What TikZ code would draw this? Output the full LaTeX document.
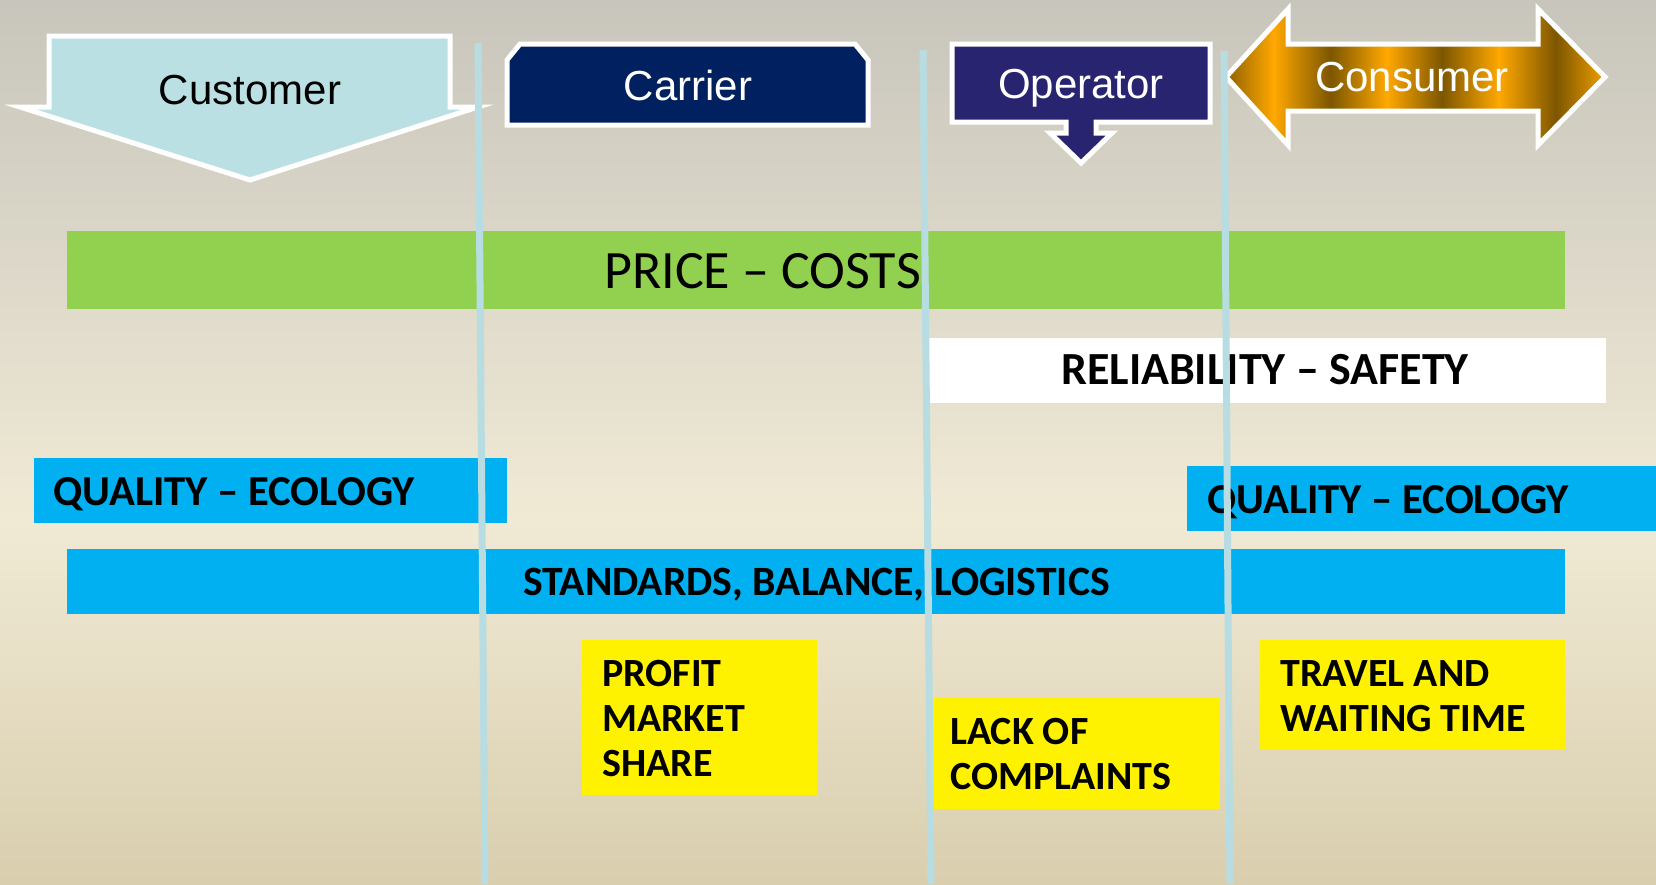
\documentclass[tikz,border=0pt]{standalone}
\usepackage{fontspec}
\setmainfont{Carlito}
\newfontfamily\headfont{Liberation Sans}

\definecolor{bgtop}{RGB}{200,197,188}
\definecolor{bgmid}{RGB}{240,234,213}
\definecolor{bgbot}{RGB}{217,206,174}
\definecolor{custblue}{RGB}{187,224,227}
\definecolor{carrnavy}{RGB}{0,32,96}
\definecolor{operblue}{RGB}{40,36,112}
\definecolor{goldlight}{RGB}{255,168,0}
\definecolor{golddark}{RGB}{125,86,0}
\definecolor{bargreen}{RGB}{146,208,80}
\definecolor{barblue}{RGB}{0,176,240}
\definecolor{divider}{RGB}{183,221,227}

\pgfdeclarehorizontalshading{goldstripes}{100bp}{color(0bp)=(golddark); color(24bp)=(golddark); color(31.3bp)=(goldlight); color(38.8bp)=(golddark); color(46.2bp)=(goldlight); color(53.5bp)=(golddark); color(61bp)=(goldlight); color(68.5bp)=(golddark); color(75.8bp)=(goldlight); color(100bp)=(goldlight)}

\begin{document}
\begin{tikzpicture}
    [x=1pt,y=-1pt,
    header/.style={draw=white,line width=5pt,line join=miter},
    head text/.style={anchor=base,inner sep=0pt,text=white,font=\headfont\fontsize{42}{50}\selectfont},
    barbox/.style={fill=barblue},
    notebox/.style={fill=yellow},
    bar text/.style={anchor=base west,inner sep=0pt,font=\bfseries\fontsize{#1}{45}\selectfont},
    bar text/.default=40,
    note text/.style={bar text,align=left},
    divider line/.style={divider,line width=7pt},
    ]

    %background
    \useasboundingbox (0,0) rectangle (1656,884);
    \shade[top color=bgtop,bottom color=bgmid] (0,0) rectangle (1656,521);
    \shade[top color=bgmid,bottom color=bgbot] (0,520) rectangle (1656,884);

    %headers
    \filldraw[header,fill=custblue] (49,36) -- (450,36) -- (450,107) -- (478,107) -- (250,180) -- (20,107) -- (49,107) -- cycle;
    \node[head text,text=black] (customer) at (250,104) {Customer};

    \filldraw[header,fill=carrnavy] (507,125) -- (507,60) -- (520,44) -- (855,44) -- (868,60) -- (868,125) -- cycle;
    \node[head text] (carrier) at (688,100) {Carrier};

    \filldraw[header,fill=operblue] (952,44) -- (1210,44) -- (1210,122) -- (1096,122) -- (1096,133) -- (1112,133)
        -- (1081,163) -- (1050,133) -- (1066,133) -- (1066,122) -- (952,122) -- cycle;
    \node[head text] (operator) at (1081,98) {Operator};

    \draw[header,shading=goldstripes] (1226,77) -- (1288,9) -- (1288,44) -- (1538,44) -- (1538,9) -- (1605,77)
        -- (1538,145) -- (1538,111) -- (1288,111) -- (1288,145) -- cycle;
    \node[head text] (consumer) at (1412,91) {Consumer};

    %bars
    \fill[bargreen] (67,231) rectangle (1565,309);
    \node[anchor=base west,inner sep=0pt,font=\fontsize{54}{60}\selectfont] (price) at (604,288) {PRICE – COSTS};

    \fill[white] (929,338) rectangle (1606,403);
    \node[bar text=46] (reliability) at (1061,384) {RELIABILITY – SAFETY};

    \fill[barblue] (34,458) rectangle (507,523);
    \node[bar text=42.7] (quality left) at (53,505) {QUALITY – ECOLOGY};

    \fill[barblue] (1187,466) rectangle (1656,531);
    \node[bar text=42.7] (quality right) at (1207,513) {QUALITY – ECOLOGY};

    \fill[barblue] (67,549) rectangle (1565,614);
    \node[bar text=41.7] (standards) at (523,595) {STANDARDS, BALANCE, LOGISTICS};

    %notes
    \fill[notebox] (582,640) rectangle (817,795);
    \node[note text] (profit) at (602,776) {PROFIT\\MARKET\\SHARE};

    \fill[notebox] (933,698) rectangle (1220,809);
    \node[note text] (complaints) at (950,789) {LACK OF\\COMPLAINTS};

    \fill[notebox] (1260,640) rectangle (1565,750);
    \node[note text] (travel) at (1280,731) {TRAVEL AND\\WAITING TIME};

    %dividers
    \draw[divider line] (478,43) -- (485,884);
    \draw[divider line] (923,50) -- (931,884);
    \draw[divider line] (1224,51) -- (1230,884);

\end{tikzpicture}
\end{document}
